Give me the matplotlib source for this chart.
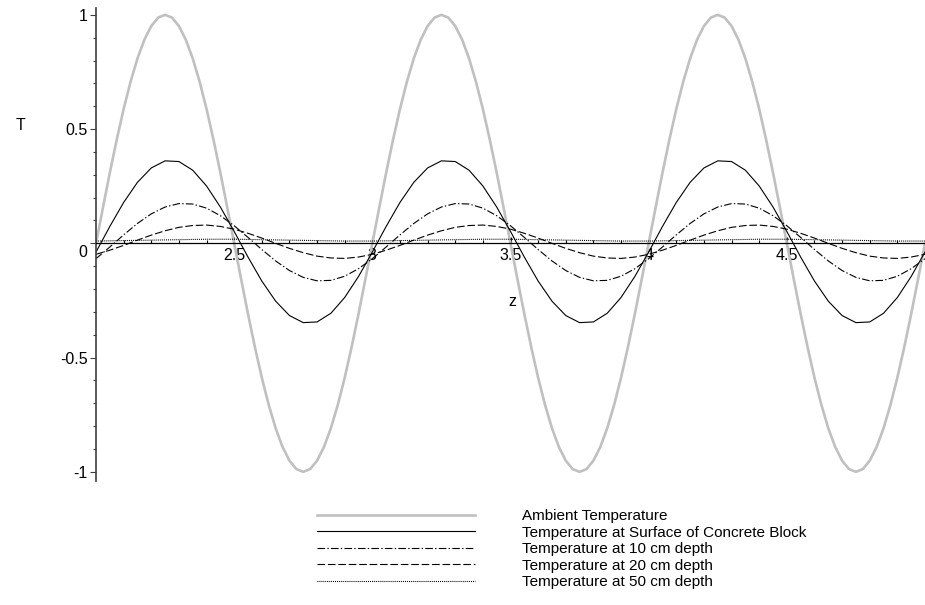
import numpy as np
import matplotlib
matplotlib.use("Agg")
import matplotlib.pyplot as plt
import matplotlib.transforms as mtransforms
from matplotlib.ticker import MultipleLocator

plt.rcParams['font.family'] = ['Liberation Sans', 'DejaVu Sans']
plt.rcParams['lines.scale_dashes'] = False

# z positions (fine grid for ambient, coarser for the damped curves)
z_fine = np.linspace(2, 5, 121)
z = np.linspace(2, 5, 61)

# Ambient temperature
ambient = [
    0.000, 0.156, 0.309, 0.454, 0.588, 0.707, 0.809, 0.891, 0.951, 0.988,
    1.000, 0.988, 0.951, 0.891, 0.809, 0.707, 0.588, 0.454, 0.309, 0.156,
    0.000, -0.156, -0.309, -0.454, -0.588, -0.707, -0.809, -0.891, -0.951, -0.988,
    -1.000, -0.988, -0.951, -0.891, -0.809, -0.707, -0.588, -0.454, -0.309, -0.156,
    0.000, 0.156, 0.309, 0.454, 0.588, 0.707, 0.809, 0.891, 0.951, 0.988,
    1.000, 0.988, 0.951, 0.891, 0.809, 0.707, 0.588, 0.454, 0.309, 0.156,
    0.000, -0.156, -0.309, -0.454, -0.588, -0.707, -0.809, -0.891, -0.951, -0.988,
    -1.000, -0.988, -0.951, -0.891, -0.809, -0.707, -0.588, -0.454, -0.309, -0.156,
    0.000, 0.156, 0.309, 0.454, 0.588, 0.707, 0.809, 0.891, 0.951, 0.988,
    1.000, 0.988, 0.951, 0.891, 0.809, 0.707, 0.588, 0.454, 0.309, 0.156,
    0.000, -0.156, -0.309, -0.454, -0.588, -0.707, -0.809, -0.891, -0.951, -0.988,
    -1.000, -0.988, -0.951, -0.891, -0.809, -0.707, -0.588, -0.454, -0.309, -0.156,
    0.000,
]

# Surface of concrete block
surface = [
    -0.038, 0.074, 0.179, 0.267, 0.330, 0.361, 0.358, 0.320, 0.251, 0.159,
    0.052, -0.060, -0.165, -0.253, -0.316, -0.347, -0.344, -0.306, -0.237, -0.145,
    -0.038, 0.074, 0.179, 0.267, 0.330, 0.361, 0.358, 0.320, 0.251, 0.159,
    0.052, -0.060, -0.165, -0.253, -0.316, -0.347, -0.344, -0.306, -0.237, -0.145,
    -0.038, 0.074, 0.179, 0.267, 0.330, 0.361, 0.358, 0.320, 0.251, 0.159,
    0.052, -0.060, -0.165, -0.253, -0.316, -0.347, -0.344, -0.306, -0.237, -0.145,
    -0.038,
]

# 10 cm depth
depth10 = [
    -0.067, -0.016, 0.037, 0.087, 0.129, 0.159, 0.174, 0.172, 0.154, 0.121,
    0.077, 0.026, -0.027, -0.077, -0.119, -0.149, -0.164, -0.162, -0.144, -0.111,
    -0.067, -0.016, 0.037, 0.087, 0.129, 0.159, 0.174, 0.172, 0.154, 0.121,
    0.077, 0.026, -0.027, -0.077, -0.119, -0.149, -0.164, -0.162, -0.144, -0.111,
    -0.067, -0.016, 0.037, 0.087, 0.129, 0.159, 0.174, 0.172, 0.154, 0.121,
    0.077, 0.026, -0.027, -0.077, -0.119, -0.149, -0.164, -0.162, -0.144, -0.111,
    -0.067,
]

# 20 cm depth
depth20 = [
    -0.048, -0.030, -0.009, 0.014, 0.036, 0.055, 0.070, 0.078, 0.080, 0.074,
    0.062, 0.044, 0.023, 0.000, -0.022, -0.041, -0.056, -0.064, -0.066, -0.060,
    -0.048, -0.030, -0.009, 0.014, 0.036, 0.055, 0.070, 0.078, 0.080, 0.074,
    0.062, 0.044, 0.023, 0.000, -0.022, -0.041, -0.056, -0.064, -0.066, -0.060,
    -0.048, -0.030, -0.009, 0.014, 0.036, 0.055, 0.070, 0.078, 0.080, 0.074,
    0.062, 0.044, 0.023, 0.000, -0.022, -0.041, -0.056, -0.064, -0.066, -0.060,
    -0.048,
]

# 50 cm depth
depth50 = [
    0.010, 0.011, 0.012, 0.013, 0.014, 0.015, 0.016, 0.017, 0.018, 0.018,
    0.018, 0.017, 0.016, 0.015, 0.014, 0.013, 0.012, 0.011, 0.010, 0.010,
    0.010, 0.011, 0.012, 0.013, 0.014, 0.015, 0.016, 0.017, 0.018, 0.018,
    0.018, 0.017, 0.016, 0.015, 0.014, 0.013, 0.012, 0.011, 0.010, 0.010,
    0.010, 0.011, 0.012, 0.013, 0.014, 0.015, 0.016, 0.017, 0.018, 0.018,
    0.018, 0.017, 0.016, 0.015, 0.014, 0.013, 0.012, 0.011, 0.010, 0.010,
    0.010,
]

labels = ['Ambient Temperature',
          'Temperature at Surface of Concrete Block',
          'Temperature at 10 cm depth',
          'Temperature at 20 cm depth',
          'Temperature at 50 cm depth']

fig = plt.figure(figsize=(9.25, 6.05), dpi=100)
ax = fig.add_axes([0.1038, 0.205, 0.8962, 0.7818])

ax.plot(z_fine, ambient, color='#c0c0c0', lw=1.9, label=labels[0])
ax.plot(z, surface, color='black', lw=0.8, label=labels[1])
ax.plot(z, depth10, color='black', lw=0.8, ls=(0, (5.5, 1.6, 1.0, 1.6)), label=labels[2])
ax.plot(z, depth20, color='black', lw=0.8, ls=(0, (5.5, 2.0)), label=labels[3])
ax.plot(z, depth50, color='black', lw=0.8, ls=(0, (0.7, 0.7)), label=labels[4])

ax.set_xlim(2, 5)
ax.set_ylim(-1.04, 1.03)

# axes through the origin, Maple style
ax.spines['top'].set_visible(False)
ax.spines['right'].set_visible(False)
ax.spines['bottom'].set_position(('data', 0))
ax.spines['bottom'].set_color('black')
ax.spines['bottom'].set_linewidth(0.9)
ax.spines['left'].set_color('#404040')
ax.spines['left'].set_linewidth(1.2)

ax.set_xticks([2.5, 3, 3.5, 4, 4.5])
ax.set_xticklabels(['2.5', '3', '3.5', '4', '4.5'])
ax.xaxis.set_minor_locator(MultipleLocator(0.1))
ax.set_yticks([-1, -0.5, 0, 0.5, 1])
ax.set_yticklabels(['-1', '-0.5', '0', '0.5', '1'])
ax.yaxis.set_minor_locator(MultipleLocator(0.1))

ax.tick_params(axis='x', which='major', direction='in', length=4, width=0.8,
               pad=3, labelsize=11.5, colors='black')
ax.tick_params(axis='x', which='minor', direction='in', length=2.5, width=0.8)
ax.tick_params(axis='y', which='major', direction='out', length=4, width=0.8,
               pad=2, labelsize=11.5, color='#404040')
ax.tick_params(axis='y', which='minor', direction='out', length=2, width=0.8,
               color='#404040')

# the "0" label sits a bit below the axis line
for lab in ax.get_yticklabels():
    if lab.get_text() == '0':
        lab.set_transform(lab.get_transform() +
                          mtransforms.ScaledTranslation(0, -8 / 100, fig.dpi_scale_trans))

fig.text(20 / 925, 1 - 125 / 605, 'T', fontsize=11.5, ha='center', va='center')
fig.text(512 / 925, 1 - 301 / 605, 'z', fontsize=11.5, ha='center', va='center')

leg = ax.legend(loc='upper left', bbox_to_anchor=(317 / 925, 1 - 509 / 605),
                bbox_transform=fig.transFigure, frameon=False, fontsize=11,
                handlelength=10.35, handletextpad=3.07, labelspacing=0.17,
                borderpad=0, borderaxespad=0)

fig.savefig('out.png', dpi=100)
